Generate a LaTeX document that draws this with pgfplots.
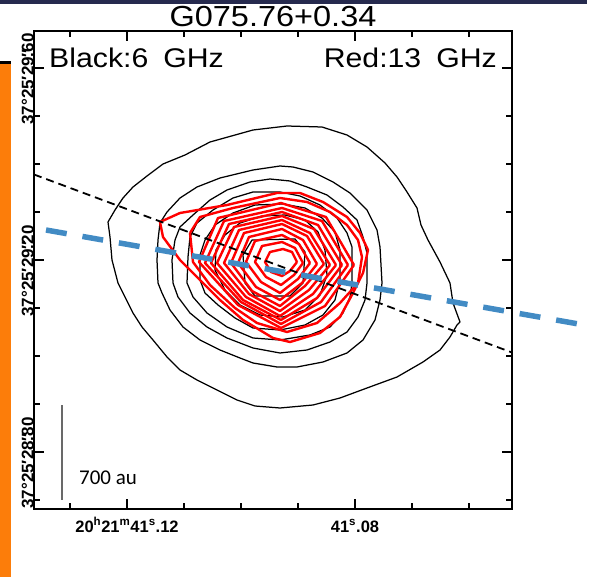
\documentclass[border=0pt]{standalone}
\usepackage{fontspec}
\setmainfont{Liberation Sans}
\newfontfamily\hersh[FakeStretch=1.12]{Liberation Sans}
\newfontfamily\calibrifont{Carlito}
\usepackage{pgfplots}
\pgfplotsset{compat=1.18}
\definecolor{navyband}{RGB}{38,42,78}
\definecolor{orangebar}{RGB}{252,125,10}
\definecolor{pablue}{RGB}{66,139,196}
\definecolor{scalegray}{RGB}{105,105,105}
\begin{document}
\begin{tikzpicture}
\begin{axis}[
  scale only axis, width=478pt, height=478pt,
  xmin=34, xmax=512, ymin=31, ymax=509, y dir=reverse,
  clip=false,
  axis line style={line width=2.4pt},
  tick align=inside,
  major tick length=10pt, minor tick length=6pt,
  tick style={black, line width=1.5pt},
  minor tick style={black, line width=1.5pt},
  xtick={127,355}, minor xtick={70,184,241,298,412,469},
  ytick={68,260,452}, minor ytick={116,164,212,308,356,404,500},
  xticklabels={20\textsuperscript{h}21\textsuperscript{m}41\textsuperscript{s}.12, 41\textsuperscript{s}.08},
  yticklabels={37°25′29\rlap{″}.60, 37°25′29\rlap{″}.20, 37°25′28\rlap{″}.80},
  xticklabel style={font=\fontsize{16.5}{16.5}\selectfont\bfseries, anchor=base, inner sep=0pt, yshift=-23pt},
  yticklabel style={font=\fontsize{17}{17}\selectfont\bfseries, rotate=90, anchor=south, inner sep=0pt, xshift=-11pt},
]
% slide decorations around the figure
\fill[navyband] (axis cs:0,0) rectangle (axis cs:587,4.5);
\fill[orangebar] (axis cs:0,64) rectangle (axis cs:11,577);
\fill[black] (axis cs:0,61.5) rectangle (axis cs:11,64);
\path (axis cs:0,0) rectangle (axis cs:597,577);

% black 6 GHz contours
\addplot[black, line width=1.25pt, line join=round] coordinates {
(108,222) (115,210) (123,198) (133,187) (147,176) (163,164) (185,155) (210,142) (253,130) (287,126) (322,127) (347,135) (367,147) (385,163) (397,177) (407,192) (417,208) (421,225) (428,240) (440,262) (450,283) (453,303) (460,322) (457,325) (450,337) (440,350) (423,362) (397,377) (367,388) (340,398) (313,405) (280,408) (255,406) (237,400) (217,390) (197,380) (180,370) (167,357) (153,340) (142,327) (133,313) (125,297) (118,283) (112,260) (110,237) (108,222)};
\addplot[black, line width=1.25pt, line join=round] coordinates {
(158,240) (160,223) (167,212) (180,198) (197,187) (220,178) (253,170) (280,166) (293,167) (313,172) (333,182) (350,193) (367,210) (377,230) (380,247) (382,283) (380,300) (375,320) (363,340) (347,353) (323,362) (297,367) (277,367) (253,363) (240,358) (220,350) (200,340) (183,327) (170,310) (162,293) (158,283) (157,260) (158,240)};
\addplot[black, line width=1.25pt, line join=round] coordinates {
(172,260) (175,240) (180,227) (193,215) (210,200) (227,190) (250,182) (270,179) (290,181) (307,187) (327,195) (343,207) (357,220) (363,237) (367,253) (367,283) (365,300) (358,317) (347,332) (330,342) (307,350) (280,353) (253,348) (227,338) (207,327) (190,313) (178,297) (173,283) (172,260)};
\addplot[black, line width=1.25pt, line join=round] coordinates {
(187,283) (188,257) (190,237) (197,223) (213,210) (233,198) (253,192) (280,192) (300,196) (320,205) (337,218) (347,233) (352,247) (352,283) (350,297) (343,313) (330,327) (310,335) (280,340) (253,338) (227,327) (207,313) (193,297) (187,283)};
\addplot[black, line width=1.25pt, line join=round] coordinates {
(200,280) (200,255) (205,240) (215,225) (233,213) (255,205) (283,204) (305,208) (322,218) (335,232) (340,250) (340,280) (335,300) (323,315) (305,325) (280,330) (253,328) (235,318) (218,305) (205,293) (200,280)};
\addplot[black, line width=1.25pt, line join=round] coordinates {
(215,270) (216,250) (225,235) (240,223) (262,216) (285,215) (305,220) (318,232) (325,250) (327,275) (320,295) (305,310) (283,317) (260,315) (240,305) (225,290) (215,270)};
\addplot[black, line width=1.25pt, line join=round] coordinates {
(243,255) (252,240) (295,239) (305,252) (303,283) (290,296) (255,296) (245,283) (243,255)};

% red 13 GHz contours
\addplot[red, line width=2.4pt, line join=round] coordinates {
(160,222) (180,213) (227,205) (277,193) (300,193) (323,202) (347,217) (360,233) (368,250) (363,273) (353,293) (340,317) (320,333) (290,342) (273,338) (243,320) (220,300) (200,280) (180,260) (163,237) (160,222)};
\addplot[red, line width=2.4pt, line join=round] coordinates {
(190,233) (200,217) (233,208) (280,198) (307,202) (330,212) (347,225) (358,240) (362,257) (358,283) (340,303) (317,323) (287,332) (257,323) (235,308) (210,285) (193,262) (190,233)};
\addplot[red, line width=2.4pt, line join=round] coordinates {
(354,265) (325,306) (281,328) (238,305) (199,262) (218,218) (281,203) (326,217) (354,265)};
\addplot[red, line width=2.4pt, line join=round] coordinates {
(348,265) (321,302) (281,324) (241,302) (205,263) (224,221) (282,208) (322,221) (348,265)};
\addplot[red, line width=2.4pt, line join=round] coordinates {
(342,265) (317,298) (281,320) (243,300) (211,263) (229,224) (282,212) (318,225) (342,265)};
\addplot[red, line width=2.4pt, line join=round] coordinates {
(336,265) (313,294) (280,316) (246,297) (217,263) (234,227) (282,216) (314,229) (336,265)};
\addplot[red, line width=2.4pt, line join=round] coordinates {
(330,265) (309,290) (280,311) (249,294) (224,263) (239,230) (282,220) (310,233) (330,265)};
\addplot[red, line width=2.4pt, line join=round] coordinates {
(324,264) (305,286) (280,306) (252,291) (231,263) (244,233) (282,224) (307,236) (324,264)};
\addplot[red, line width=2.4pt, line join=round] coordinates {
(317,264) (302,283) (280,300) (256,287) (238,263) (249,237) (282,229) (303,240) (317,264)};
\addplot[red, line width=2.4pt, line join=round] coordinates {
(310,263) (298,279) (280,293) (261,282) (246,262) (255,241) (282,235) (299,244) (310,263)};
\addplot[red, line width=2.4pt, line join=round] coordinates {
(303,263) (294,275) (281,285) (266,277) (255,262) (262,246) (282,242) (295,248) (303,263)};
\addplot[red, line width=2.4pt, line join=round] coordinates {
(297,262) (290,271) (282,276) (271,272) (265,262) (270,252) (283,249) (292,252) (297,262)};

% direction lines
\addplot[black, line width=1.8pt, dash pattern=on 8pt off 5pt] coordinates {(34,174.5) (512,352.5)};
\addplot[pablue, line width=5.5pt, dash pattern=on 21pt off 16pt] coordinates {(46,230) (590,326)};

% scale bar
\addplot[scalegray, line width=2.6pt] coordinates {(62,405) (62,500)};
\node[anchor=base west, inner sep=0pt] at (axis cs:79,484) {\calibrifont\fontsize{21}{21}\selectfont 700 au};

% labels
\node[anchor=base, inner sep=0pt] at (axis cs:273,27) {\hersh\fontsize{29}{29}\selectfont G075.76+0.34};
\node[anchor=base west, inner sep=0pt] at (axis cs:49,68) {\hersh\fontsize{27}{27}\selectfont Black:6\hspace{15pt}GHz};
\node[anchor=base east, inner sep=0pt] at (axis cs:497,68) {\hersh\fontsize{27}{27}\selectfont Red:13\hspace{15pt}GHz};
\end{axis}
\end{tikzpicture}
\end{document}
